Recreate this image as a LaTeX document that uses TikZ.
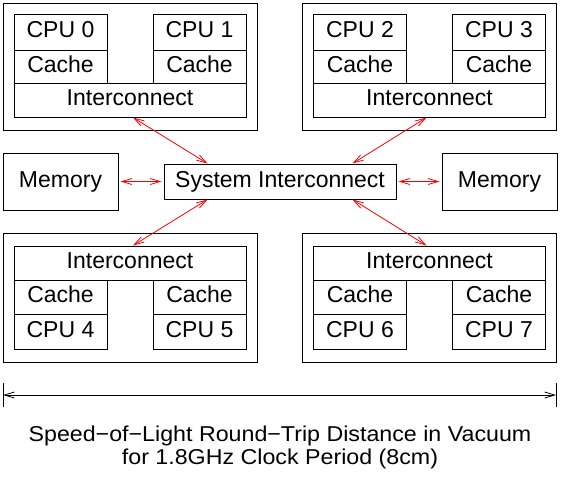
\documentclass[tikz,border=0pt]{standalone}
\usepackage{fontspec}
\setmainfont{Liberation Sans}
\newfontfamily\capfont[FakeStretch=1.08]{Liberation Sans}
\usetikzlibrary{arrows.meta,calc}
\tikzset{
  box/.style={draw, line width=1pt, inner sep=0pt, text height=16pt, text depth=4.5pt,
    font=\fontsize{23}{27}\selectfont},
  outerbox/.style={draw, line width=1pt, inner sep=0pt},
  link/.style={draw=red, line width=0.8pt,
    {Straight Barb[length=10pt,width=6pt]}-{Straight Barb[length=10pt,width=6pt]}},
  dim/.style={draw=black, line width=0.8pt,
    {Straight Barb[length=10pt,width=6pt]}-{Straight Barb[length=10pt,width=6pt]}},
  caption/.style={inner sep=0pt, anchor=base, font=\capfont\fontsize{21.5}{25}\selectfont},
}
% #1 x offset, #2 first cpu, #3 second cpu, #4 group id
\newcommand\topgrp[4]{%
  \node[outerbox, minimum width=254pt, minimum height=127pt] (g#4) at (130+#1,66.5) {};
  \node[box, minimum width=93pt, minimum height=36pt] (cpu#2) at (60.5+#1,32) {CPU #2};
  \node[box, minimum width=93pt, minimum height=33pt] (cache#2) at (60.5+#1,66.5) {Cache};
  \node[box, minimum width=93pt, minimum height=36pt] (cpu#3) at (199.5+#1,32) {CPU #3};
  \node[box, minimum width=93pt, minimum height=33pt] (cache#3) at (199.5+#1,66.5) {Cache};
  \node[box, minimum width=232pt, minimum height=34pt] (ic#4) at (130+#1,100) {Interconnect};
}
\newcommand\botgrp[4]{%
  \node[outerbox, minimum width=254pt, minimum height=129pt] (g#4) at (130+#1,297.5) {};
  \node[box, minimum width=232pt, minimum height=34pt] (ic#4) at (130+#1,263) {Interconnect};
  \node[box, minimum width=93pt, minimum height=34pt] (cache#2) at (60.5+#1,297) {Cache};
  \node[box, minimum width=93pt, minimum height=35pt] (cpu#2) at (60.5+#1,331.5) {CPU #2};
  \node[box, minimum width=93pt, minimum height=34pt] (cache#3) at (199.5+#1,297) {Cache};
  \node[box, minimum width=93pt, minimum height=35pt] (cpu#3) at (199.5+#1,331.5) {CPU #3};
}
\begin{document}
\begin{tikzpicture}[x=1pt,y=-1pt]
\useasboundingbox (0,0) rectangle (562,480);
\topgrp{0}{0}{1}{A}
\topgrp{299.5}{2}{3}{B}
\botgrp{0}{4}{5}{C}
\botgrp{299.5}{6}{7}{D}
\node[box, minimum width=115pt, minimum height=57pt] (memL) at (60.5,181.5) {Memory};
\node[box, minimum width=115pt, minimum height=57pt] (memR) at (499.5,181.5) {Memory};
\node[box, minimum width=232pt, minimum height=35pt] (sys) at (280,181.5) {System Interconnect};
\draw[link] ($(icA.south)+(3,0)$) -- ($(sys.north west)+(44,0)$);
\draw[link] ($(icB.south)+(-3,0)$) -- ($(sys.north east)+(-44,0)$);
\draw[link] ($(icC.north)+(3,0)$) -- ($(sys.south west)+(44,0)$);
\draw[link] ($(icD.north)+(-3,0)$) -- ($(sys.south east)+(-44,0)$);
\draw[link] ($(memL.east)+(2,0)$) -- ($(sys.west)+(-2,0)$);
\draw[link] ($(memR.west)+(-2,0)$) -- ($(sys.east)+(2,0)$);
\coordinate (dl) at (3,395);
\coordinate (dr) at (556,395);
\draw[line width=0.8pt] ($(dl)+(0,-12)$) -- ($(dl)+(0,12)$);
\draw[line width=0.8pt] ($(dr)+(0,-12)$) -- ($(dr)+(0,12)$);
\draw[dim] (dl) -- (dr);
\node[caption] (cap1) at (280,441) {Speed−of−Light Round−Trip Distance in Vacuum};
\node[caption] (cap2) at (280,464) {for 1.8GHz Clock Period (8cm)};
\end{tikzpicture}
\end{document}
